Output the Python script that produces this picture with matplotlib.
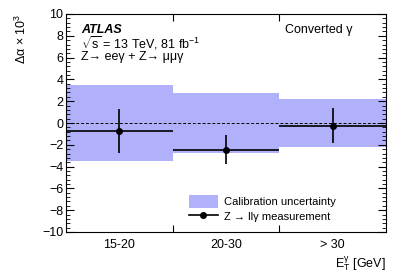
import matplotlib
matplotlib.use("Agg")
import matplotlib.pyplot as plt
import numpy as np
from matplotlib.ticker import MultipleLocator
from matplotlib.patches import Patch
from matplotlib.lines import Line2D

plt.rcParams['font.family'] = ['Liberation Sans', 'DejaVu Sans']
plt.rcParams['mathtext.fontset'] = 'custom'
plt.rcParams['mathtext.rm'] = 'Liberation Sans'
plt.rcParams['mathtext.it'] = 'Liberation Sans'

categories = ["15-20", "20-30", "> 30"]
calib_unc = [3.45, 2.72, 2.23]
meas = [-0.73, -2.45, -0.25]
meas_err = [1.98, 1.35, 1.6]

band_color = '#b1b1fb'

fig = plt.figure(figsize=(4.07, 2.77), dpi=100)
ax = fig.add_axes([66/407, 1-232/277, 320/407, 218/277])

edges = np.arange(len(categories) + 1)
centers = edges[:-1] + 0.5
for i in range(len(categories)):
    ax.fill_between([edges[i], edges[i+1]], -calib_unc[i], calib_unc[i],
                    color=band_color, lw=0, zorder=1)
ax.axhline(0, color='black', lw=0.7, ls=(0, (3, 2)), zorder=2)
ax.errorbar(centers, meas, yerr=meas_err, xerr=0.5, fmt='o', color='black',
            ms=4, lw=1.2, capsize=0, zorder=3)

ax.set_xlim(0, 3)
ax.set_ylim(-10, 10)
ax.set_xticks(edges[1:-1])
ax.set_xticklabels([])
ax.set_xticks(centers, minor=True)
ax.set_xticklabels(categories, minor=True)
ax.tick_params(axis='x', which='minor', length=0, labelsize=9, pad=5)
ax.tick_params(axis='x', which='major', direction='in', top=True, length=5, width=0.8)
ax.yaxis.set_major_locator(MultipleLocator(2))
ax.yaxis.set_minor_locator(MultipleLocator(0.4))
ax.tick_params(axis='y', which='both', direction='in', right=True, labelsize=9, pad=2)
ax.tick_params(axis='y', which='major', length=6, width=0.8)
ax.tick_params(axis='y', which='minor', length=3, width=0.6)

ax.set_ylabel("Δα × 10$^{3}$", fontsize=9, loc='top', labelpad=9)
ax.set_xlabel(r"E$_{\mathrm{T}}^{\gamma}$ [GeV]", fontsize=9, loc='right', labelpad=3)

ax.text(0.048, 0.927, "ATLAS", transform=ax.transAxes, fontsize=9,
        fontweight='bold', style='italic', va='center')
ax.text(0.048, 0.865, r"$\sqrt{\mathrm{s}}$ = 13 TeV, 81 fb$^{-1}$", transform=ax.transAxes,
        fontsize=9, va='center')
ax.text(0.048, 0.802, "Z→ eeγ + Z→ μμγ", transform=ax.transAxes, fontsize=9, va='center')
ax.text(0.685, 0.927, "Converted γ", transform=ax.transAxes, fontsize=9, va='center')

handles = [Patch(facecolor=band_color, edgecolor='none'),
           Line2D([0], [0], color='black', marker='o', ms=4, lw=1.2)]
ax.legend(handles, ["Calibration uncertainty", "Z → llγ measurement"],
          loc='lower left', bbox_to_anchor=(0.384, 0.04), frameon=False,
          borderpad=0, borderaxespad=0,
          fontsize=8, handlelength=2.6, handleheight=1.5,
          handletextpad=0.6, labelspacing=0.15)

fig.savefig("out.png", dpi=100)
